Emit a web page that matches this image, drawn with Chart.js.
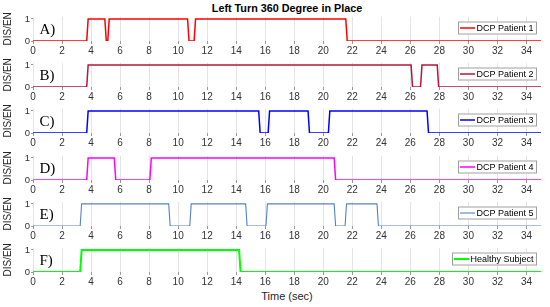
<!DOCTYPE html>
<html>
<head>
<meta charset="utf-8">
<script src="https://cdn.jsdelivr.net/npm/chart.js@4/dist/chart.umd.min.js"></script>
<style>
  body { margin: 0; background: #fff; width: 550px; height: 307px; position: relative; overflow: hidden;
         font-family: 'Liberation Sans', Arial, sans-serif; }
  canvas { position: absolute; left: 0; }
  #title { position: absolute; left: 0; width: 574px; top: 1px; text-align: center; font-weight: bold;
           font-size: 10.8px; line-height: 14px; color: #000; }
  #xlabel { position: absolute; left: 0; width: 574px; top: 289px; text-align: center;
            font-size: 11px; line-height: 14px; color: #262626; }
</style>
</head>
<body>
<div id="title">Left Turn 360 Degree in Place</div>
<div id="xlabel">Time (sec)</div>

<script>
// tick labels
const xTickVals = [0, 2, 4, 6, 8, 10, 12, 14, 16, 18, 20, 22, 24, 26, 28, 30, 32, 34];
const yTickVals = [0, 0.5, 1];

const seriesNames = ['DCP Patient 1', 'DCP Patient 2', 'DCP Patient 3', 'DCP Patient 4', 'DCP Patient 5', 'Healthy Subject'];
const panelLabels = ['A)', 'B)', 'C)', 'D)', 'E)', 'F)'];
const seriesColors = ['#ff0000', '#b3173a', '#0000ff', '#ff00ff', '#5581c8', '#00ff00'];
const seriesWidths = [1.5, 1.5, 1.5, 1.5, 1.1, 2];

// DIS/EN switching points (time in sec, state)
const p1Time = [0, 3.7, 3.8, 4.95, 5.05, 5.15, 5.25, 10.65, 10.75, 11.1, 11.2, 21.55, 21.65, 35];
const p1Val  = [0, 0,   1,   1,    0,    0,    1,    1,     0,     0,    1,    1,     0,     0];

const p2Time = [0, 3.7, 3.8, 26.05, 26.15, 26.7, 26.8, 27.85, 27.95, 35];
const p2Val  = [0, 0,   1,   1,     0,     0,    1,    1,     0,     0];

const p3Time = [0, 3.7, 3.8, 15.55, 15.65, 16.2, 16.3, 18.95, 19.05, 20.35, 20.45, 27.15, 27.25, 35];
const p3Val  = [0, 0,   1,   1,     0,     0,    1,    1,     0,     0,     1,     1,     0,     0];

const p4Time = [0, 3.7, 3.8, 5.6, 5.7, 8.05, 8.15, 20.75, 20.85, 35];
const p4Val  = [0, 0,   1,   1,   0,   0,    1,    1,     0,     0];

const p5Time = [0, 3.25, 3.35, 9.35, 9.45, 10.8, 10.9, 14.65, 14.75, 16.05, 16.15, 20.75, 20.85, 21.5, 21.6, 23.7, 23.8, 35];
const p5Val  = [0, 0,    1,    1,    0,    0,    1,    1,     0,     0,     1,     1,     0,     0,    1,    1,    0,    0];

const hsTime = [0, 3.25, 3.35, 14.2, 14.3, 35];
const hsVal  = [0, 0,    1,    1,    0,    0];

const allTimes = [p1Time, p2Time, p3Time, p4Time, p5Time, hsTime];
const allVals = [p1Val, p2Val, p3Val, p4Val, p5Val, hsVal];

const canvasTops = [10, 56, 102, 149, 195, 241];

// panel letter + boxed legend drawn inside each plot
const panelDecor = {
  id: 'panelDecor',
  afterDatasetsDraw(chart, args, opts) {
    const { ctx, chartArea, scales } = chart;
    const ds = chart.data.datasets[0];
    ctx.save();
    ctx.font = '15px "Liberation Serif", "Times New Roman", serif';
    ctx.fillStyle = '#000';
    ctx.textBaseline = 'middle';
    ctx.textAlign = 'left';
    ctx.fillText(opts.label, scales.x.getPixelForValue(0.45), scales.y.getPixelForValue(0.5));

    ctx.font = '9px "Liberation Sans", Arial, sans-serif';
    const tw = ctx.measureText(ds.label).width;
    const w = Math.round(tw + 22), h = 13;
    const right = Math.round(chartArea.right - 4);
    const left = right - w;
    const cy = Math.round(scales.y.getPixelForValue(0.6));
    ctx.fillStyle = '#fff';
    ctx.fillRect(left, cy - h / 2, w, h);
    ctx.strokeStyle = '#a0a0a0';
    ctx.lineWidth = 1;
    ctx.strokeRect(left + 0.5, cy - h / 2 + 0.5, w - 1, h - 1);
    ctx.strokeStyle = ds.borderColor;
    ctx.lineWidth = ds.borderWidth;
    ctx.beginPath();
    ctx.moveTo(left + 2, cy);
    ctx.lineTo(left + 17, cy);
    ctx.stroke();
    ctx.fillStyle = '#000';
    ctx.fillText(ds.label, left + 18.5, cy + 0.5);
    ctx.restore();
  }
};

for (let i = 0; i < 6; i++) {
  const cv = document.createElement('canvas');
  cv.width = 550;
  cv.height = 47;
  cv.style.top = canvasTops[i] + 'px';
  document.body.appendChild(cv);

  new Chart(cv, {
    type: 'line',
    data: {
      datasets: [{
        label: seriesNames[i],
        data: allTimes[i].map((t, k) => ({ x: t, y: allVals[i][k] })),
        borderColor: seriesColors[i],
        borderWidth: seriesWidths[i],
        pointRadius: 0,
        tension: 0,
        fill: false
      }]
    },
    options: {
      responsive: false,
      animation: false,
      devicePixelRatio: 1,
      layout: { padding: { top: 4, right: 9, left: 0, bottom: 0 } },
      plugins: {
        legend: { display: false },
        tooltip: { enabled: false },
        panelDecor: { label: panelLabels[i] }
      },
      scales: {
        x: {
          type: 'linear',
          min: 0,
          max: 35,
          afterBuildTicks: s => { s.ticks = xTickVals.map(v => ({ value: v })); },
          afterFit: s => { s.height = 16; },
          border: { display: false },
          grid: { color: '#e4e4e4', lineWidth: 1, drawTicks: true, tickLength: 3, tickColor: '#999' },
          ticks: { padding: 1, maxRotation: 0, autoSkip: false, color: '#333',
                   font: { size: 10, family: '"Liberation Sans", Arial, sans-serif' } }
        },
        y: {
          min: 0,
          max: 1.1,
          afterBuildTicks: s => { s.ticks = yTickVals.map(v => ({ value: v })); },
          afterFit: s => { s.width = 33; },
          border: { display: false },
          grid: { drawOnChartArea: false, drawTicks: true, tickLength: 2, tickColor: '#999' },
          ticks: { padding: 1, color: '#333', callback: v => String(v),
                   font: { size: 9.5, family: '"Liberation Sans", Arial, sans-serif' } },
          title: { display: true, text: 'DIS/EN', color: '#262626', padding: { top: 2, bottom: 0 },
                   font: { size: 10, family: '"Liberation Sans", Arial, sans-serif' } }
        }
      }
    },
    plugins: [panelDecor]
  });
}
</script>
</body>
</html>
